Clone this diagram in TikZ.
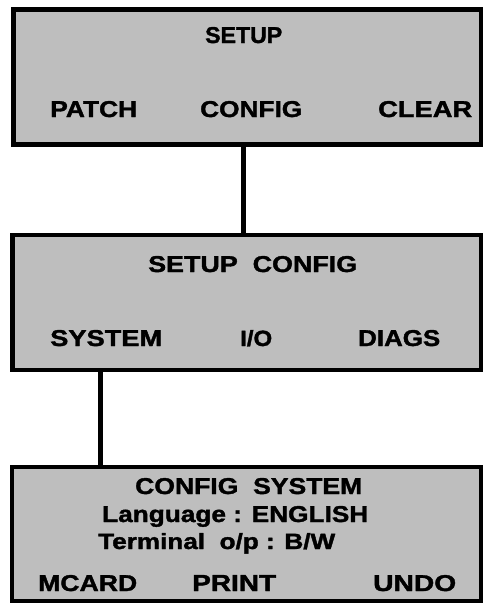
\documentclass[tikz,border=0pt]{standalone}
\usepackage{fontspec}
\usepackage{graphicx}
\newfontfamily\dfont{Liberation Sans}[BoldFeatures={FakeBold=1.5}]
\newcommand\lbl[2]{\resizebox{#1pt}{16pt}{\dfont\bfseries #2}}
\definecolor{dither}{RGB}{190,190,190}
\begin{document}
\begin{tikzpicture}[x=1pt,y=-1pt,
  panel/.style={draw=black, line width=4.5pt, fill=dither, rectangle, inner sep=0pt},
  txt/.style={inner sep=0pt, anchor=base west, text=black},
  link/.style={draw=black, line width=5pt}]
\useasboundingbox (0,0) rectangle (483,603);
% panels
\node[panel, minimum width=467.5pt, minimum height=135pt] (b1) at (247.25,77) {};
\node[panel, minimum width=468.5pt, minimum height=135pt] (b2) at (246.75,302.5) {};
\node[panel, minimum width=469pt, minimum height=134pt] (b3) at (246.5,534) {};
% box 1
\node[txt] (setup) at (205,43) {\lbl{77}{SETUP}};
\node[txt] (patch) at (50,117) {\lbl{87}{PATCH}};
\node[txt] (config) at (200,117) {\lbl{102}{CONFIG}};
\node[txt] (clear) at (378,117) {\lbl{94}{CLEAR}};
% box 2
\node[txt] (setupconfig) at (148,272) {\lbl{209}{SETUP\ \ CONFIG}};
\node[txt] (system) at (50,346) {\lbl{112}{SYSTEM}};
\node[txt] (io) at (240,346) {\lbl{32}{I/O}};
\node[txt] (diags) at (358,346) {\lbl{82}{DIAGS}};
% box 3
\node[txt] (configsystem) at (135,494) {\lbl{227}{CONFIG\ \ SYSTEM}};
\node[txt] (language) at (102,522) {\lbl{266}{Language : ENGLISH}};
\node[txt] (terminal) at (98,549) {\lbl{237}{Terminal\ \ o/p : B/W}};
\node[txt] (mcard) at (38,591) {\lbl{99}{MCARD}};
\node[txt] (print) at (192,591) {\lbl{84}{PRINT}};
\node[txt] (undo) at (373,591) {\lbl{83}{UNDO}};
% connectors
\draw[link] ([xshift=-4.25pt]b1.south) -- ([xshift=-4.25pt]b1.south |- b2.north);
\draw[link] ([xshift=-6pt]system.south |- b2.south) -- ([xshift=-6pt]system.south |- b3.north);
\end{tikzpicture}
\end{document}
